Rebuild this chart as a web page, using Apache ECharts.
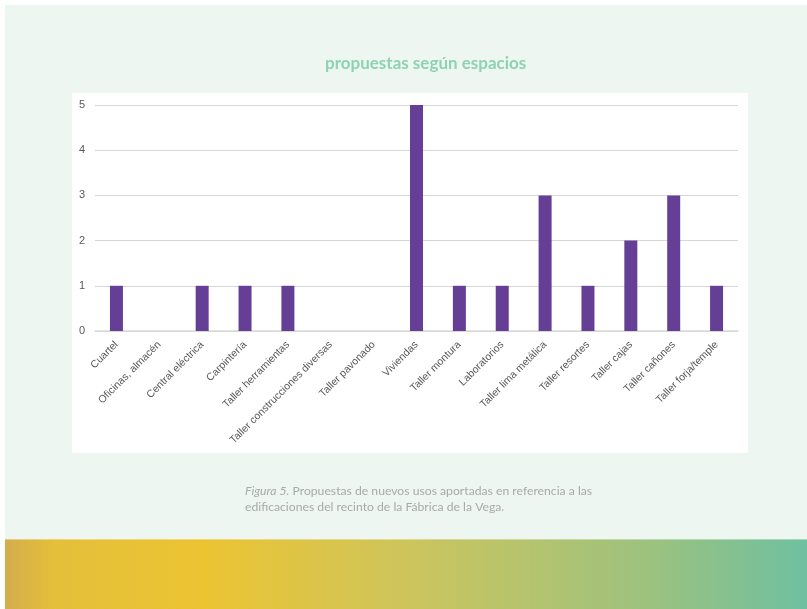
<!DOCTYPE html>
<html>
<head>
<meta charset="utf-8">
<script src="https://cdn.jsdelivr.net/npm/echarts@6/dist/echarts.min.js"></script>
<style>
html,body{margin:0;padding:0;background:#ffffff;}
#main{width:807px;height:609px;}
</style>
</head>
<body>
<div id="main"></div>
<script>
var categories = ['Cuartel','Oficinas, almacén','Central eléctrica','Carpintería','Taller herramientas','Taller construcciones diversas','Taller pavonado','Viviendas','Taller montura','Laboratorios','Taller lima metálica','Taller resortes','Taller cajas','Taller cañones','Taller forja/temple'];
var values = [1,0,1,1,1,0,0,5,1,1,3,1,2,3,1];
var yTicks = [0,1,2,3,4,5];
var titleText = 'propuestas según espacios';
var captionItalic = 'Figura 5.';
var captionLine1 = ' Propuestas de nuevos usos aportadas en referencia a las';
var captionLine2 = 'edificaciones del recinto de la Fábrica de la Vega.';

var chart = echarts.init(document.getElementById('main'));
chart.setOption({
  backgroundColor: '#ffffff',
  animation: false,
  graphic: [
    {type:'rect', z:-10, shape:{x:5,y:5,width:802,height:534}, style:{fill:'#eef6f1'}},
    {type:'rect', z:-9, shape:{x:72,y:93,width:676,height:360}, style:{fill:'#ffffff'}},
    {type:'rect', z:-10, shape:{x:5,y:539,width:802,height:70}, style:{
      fill: new echarts.graphic.LinearGradient(0,0,1,0,[
        {offset:0, color:'#d3ad4d'},
        {offset:0.06, color:'#e4bf3a'},
        {offset:0.25, color:'#ecc432'},
        {offset:0.5, color:'#cdc55c'},
        {offset:0.8, color:'#9dc27e'},
        {offset:1, color:'#6fc0a1'}
      ])}},
    {type:'rect', z:-8, shape:{x:5,y:539,width:802,height:1}, style:{fill:'rgba(255,255,255,0.35)'}},
    {type:'text', left:245, top:485, style:{
      text: '{i|'+captionItalic+'}{n|'+captionLine1+'}\n{n|'+captionLine2+'}',
      rich:{
        i:{fontFamily:'Lato', fontStyle:'italic', fontSize:12.2, fill:'#a9a9a9', lineHeight:16},
        n:{fontFamily:'Lato', fontSize:12.2, fill:'#a9a9a9', lineHeight:16}
      }
    }},
    {type:'text', left:325, top:55, style:{
      text: titleText,
      fontFamily:'Lato', fontWeight:'bold', fontSize:17, fill:'#8dd3b2'
    }}
  ],
  grid: {left:95, right:69, top:105, bottom:278, containLabel:false},
  xAxis: {
    type:'category',
    data: categories,
    axisTick:{show:false},
    axisLine:{lineStyle:{color:'#d9d9d9', width:1.5}},
    axisLabel:{rotate:45, interval:0, fontFamily:'Liberation Sans', fontSize:10.5, color:'#595959', margin:12}
  },
  yAxis: {
    type:'value',
    min: yTicks[0],
    max: yTicks[yTicks.length-1],
    interval: 1,
    axisLine:{show:false},
    axisTick:{show:false},
    splitLine:{lineStyle:{color:'#d6d6d6', width:1}},
    axisLabel:{fontFamily:'Liberation Sans', fontSize:11, color:'#595959', margin:10}
  },
  series: [{
    type:'bar',
    data: values,
    barWidth: 13,
    itemStyle:{color:'#643f95'}
  }]
});
</script>
</body>
</html>
